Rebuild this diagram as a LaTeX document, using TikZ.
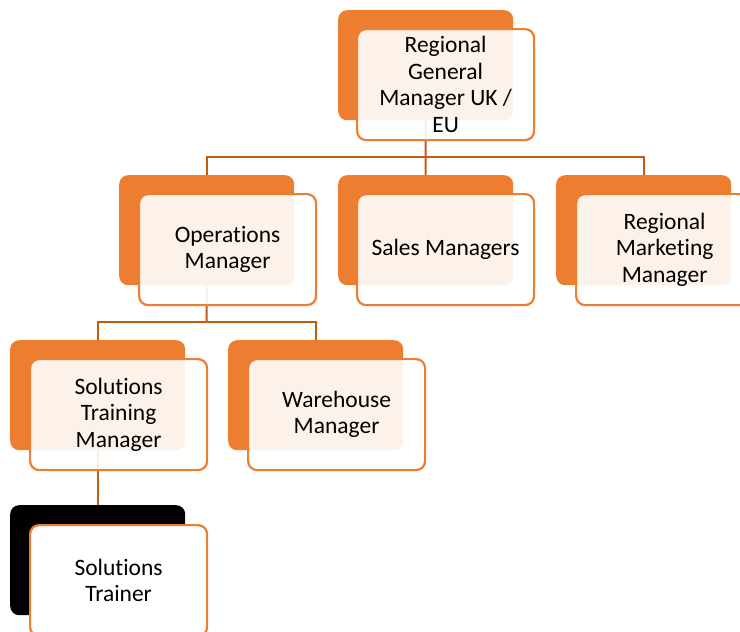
\documentclass[tikz,border=0pt]{standalone}
\usepackage{fontspec}
\setmainfont{Carlito}[Ligatures=NoCommon]
\definecolor{accent}{HTML}{ED7D31}
\definecolor{conn}{HTML}{C55A11}
\tikzset{
  backbox/.style={draw=none, fill=accent, rounded corners=9pt, minimum width=175pt, minimum height=110pt, anchor=north west, inner sep=0pt},
  frontbox/.style={draw=accent, line width=2.2pt, fill=white, fill opacity=0.9, text opacity=1, rounded corners=9pt, minimum width=177pt, minimum height=111pt, anchor=north west, align=center, inner sep=0pt, font=\fontsize{23.5}{26.5}\selectfont, text=black},
  link/.style={draw=conn, line width=2pt}
}
\begin{document}
\begin{tikzpicture}[x=1pt, y=-1pt]
\useasboundingbox (0,0) rectangle (740,632);
\clip (0,0) rectangle (740,632);
% back boxes
\node[backbox] (rgmb) at (338,10) {};
\node[backbox] (opsb) at (119,175) {};
\node[backbox] (salb) at (338,175) {};
\node[backbox] (mktb) at (556,175) {};
\node[backbox] (stmb) at (10,340) {};
\node[backbox] (whb) at (228,340) {};
\node[backbox, fill=black] (stb) at (10,505) {};
% junctions
\coordinate (j1) at (425.5,157);
\coordinate (j2) at (206.5,322);
% connectors
\draw[link] (rgmb.south) -- (j1);
\draw[link] (j1) -| (opsb.north);
\draw[link] (j1) -- (salb.north);
\draw[link] (j1) -| (mktb.north);
\draw[link] (opsb.south) -- (j2);
\draw[link] (j2) -| (stmb.north);
\draw[link] (j2) -| (whb.north);
\draw[link] (stmb.south) -- (stb.north);
% front boxes
\node[frontbox] (rgm) at (356,28) {Regional\\General\\Manager UK /\\EU};
\node[frontbox] (ops) at (138,193) {Operations\\Manager};
\node[frontbox] (sal) at (356,193) {Sales Managers};
\node[frontbox] (mkt) at (575,193) {Regional\\Marketing\\Manager};
\node[frontbox] (stm) at (29,358) {Solutions\\Training\\Manager};
\node[frontbox] (wh) at (247,358) {Warehouse\\Manager};
\node[frontbox, fill opacity=1] (st) at (29,524) {Solutions\\Trainer};
\end{tikzpicture}
\end{document}
